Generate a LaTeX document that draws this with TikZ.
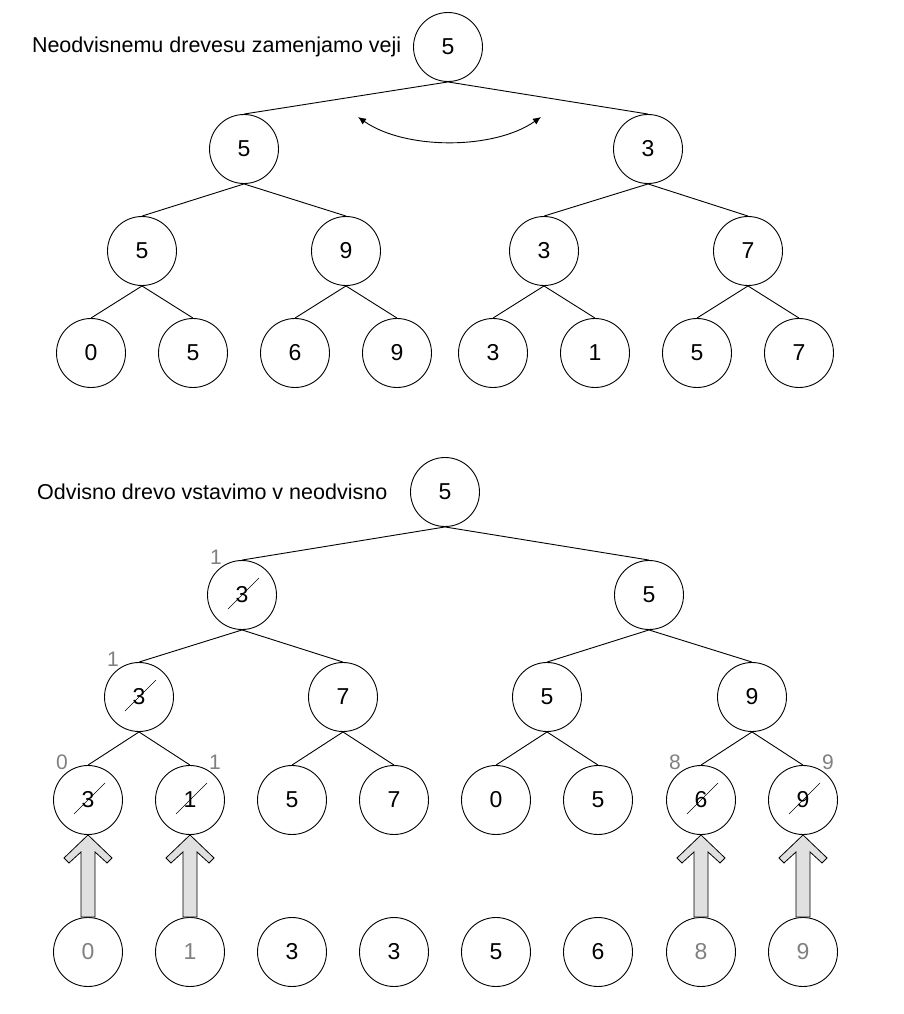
\documentclass[tikz,border=0pt]{standalone}
\usepackage{fontspec}
\setmainfont{Liberation Sans}
\usetikzlibrary{positioning,arrows.meta}
\newcommand{\Lift}[2]{%
  \draw[lift] ([xshift=-7pt]#1.north) -- ([xshift=-7pt,yshift=-17pt]#2.south)
    -- ([xshift=-19pt,yshift=-28pt]#2.south) -- ([xshift=-24pt,yshift=-23pt]#2.south)
    -- (#2.south) -- ([xshift=24pt,yshift=-23pt]#2.south)
    -- ([xshift=19pt,yshift=-28pt]#2.south) -- ([xshift=7pt,yshift=-17pt]#2.south)
    -- ([xshift=7pt]#1.north) -- cycle;}

\tikzset{
  vertex/.style={draw, circle, on grid, minimum size=69pt, inner sep=0pt,
    line width=0.9pt, font=\fontsize{23}{23}\selectfont},
  struck/.style={path picture={\draw[line width=0.6pt]
    ([shift={(-14pt,-14pt)}]path picture bounding box.center) --
    ([shift={(17pt,17pt)}]path picture bounding box.center);}},
  faded/.style={text=black!50},
  idx/.style={on grid, text=black!50, font=\fontsize{21}{21}\selectfont},
  caption/.style={font=\fontsize{21.5}{21.5}\selectfont},
  lift/.style={fill=black!12, line width=0.8pt},
}

\begin{document}
\begin{tikzpicture}[x=1pt, y=-1pt, line width=0.9pt]
		\useasboundingbox (0,0) rectangle (904,1014);

		% Independent tree
		\node[vertex] (T) at (448,47) {5};
		\node[caption, left=8pt of T] (titleT) {Neodvisnemu drevesu zamenjamo veji};
		\node[vertex, below left=102pt and 204pt of T] (TL) {5};
		\node[vertex, below right=102pt and 200pt of T] (TR) {3};
		\node[vertex, below left=102pt and 102pt of TL] (TLL) {5};
		\node[vertex, below right=102pt and 102pt of TL] (TLR) {9};
		\node[vertex, below left=102pt and 104pt of TR] (TRL) {3};
		\node[vertex, below right=102pt and 100pt of TR] (TRR) {7};
		\node[vertex, below left=102pt and 51pt of TLL] (TLLL) {0};
		\node[vertex, below right=102pt and 51pt of TLL] (TLLR) {5};
		\node[vertex, below left=102pt and 51pt of TLR] (TLRL) {6};
		\node[vertex, below right=102pt and 51pt of TLR] (TLRR) {9};
		\node[vertex, below left=102pt and 51pt of TRL] (TRLL) {3};
		\node[vertex, below right=102pt and 51pt of TRL] (TRLR) {1};
		\node[vertex, below left=102pt and 51pt of TRR] (TRRL) {5};
		\node[vertex, below right=102pt and 51pt of TRR] (TRRR) {7};

		% Connect the nodes
		\draw (T.south) -- (TL.north) (T.south) -- (TR.north);
		\draw (TL.south) -- (TLL.north) (TL.south) -- (TLR.north);
		\draw (TR.south) -- (TRL.north) (TR.south) -- (TRR.north);
		\draw (TLL.south) -- (TLLL.north) (TLL.south) -- (TLLR.north);
		\draw (TLR.south) -- (TLRL.north) (TLR.south) -- (TLRR.north);
		\draw (TRL.south) -- (TRLL.north) (TRL.south) -- (TRLR.north);
		\draw (TRR.south) -- (TRRL.north) (TRR.south) -- (TRRR.north);

		% Swap of the branches
		\coordinate (swapL) at (358,117);
		\coordinate (swapR) at (541,117);
		\draw[{Latex[length=8pt,width=7pt]}-{Latex[length=8pt,width=7pt]}]
			(swapL) .. controls (405,150) and (494,150) .. (swapR);

		% Dependent tree inserted
		\node[vertex] (B) at (445,492) {5};
		\node[caption, left=19pt of B] (titleB) {Odvisno drevo vstavimo v neodvisno};
		\node[vertex, struck, below left=103pt and 203pt of B] (BL) {3};
		\node[vertex, below right=103pt and 204pt of B] (BR) {5};
		\node[vertex, struck, below left=102pt and 103pt of BL] (BLL) {3};
		\node[vertex, below right=102pt and 101pt of BL] (BLR) {7};
		\node[vertex, below left=102pt and 102pt of BR] (BRL) {5};
		\node[vertex, below right=102pt and 103pt of BR] (BRR) {9};
		\node[vertex, struck, below left=103pt and 51pt of BLL] (BLLL) {3};
		\node[vertex, struck, below right=103pt and 51pt of BLL] (BLLR) {1};
		\node[vertex, below left=103pt and 51pt of BLR] (BLRL) {5};
		\node[vertex, below right=103pt and 51pt of BLR] (BLRR) {7};
		\node[vertex, below left=103pt and 51pt of BRL] (BRLL) {0};
		\node[vertex, below right=103pt and 51pt of BRL] (BRLR) {5};
		\node[vertex, struck, below left=103pt and 51pt of BRR] (BRRL) {6};
		\node[vertex, struck, below right=103pt and 51pt of BRR] (BRRR) {9};

		% Counters
		\node[idx, above left=38pt and 26pt of BL] (iBL) {1};
		\node[idx, above left=38pt and 26pt of BLL] (iBLL) {1};
		\node[idx, above left=38pt and 26pt of BLLL] (iBLLL) {0};
		\node[idx, above right=38pt and 25pt of BLLR] (iBLLR) {1};
		\node[idx, above left=38pt and 26pt of BRRL] (iBRRL) {8};
		\node[idx, above right=38pt and 25pt of BRRR] (iBRRR) {9};

		% Dependent leaves
		\node[vertex, faded, below=152pt of BLLL] (Q1) {0};
		\node[vertex, faded, below=152pt of BLLR] (Q2) {1};
		\node[vertex, below=152pt of BLRL] (Q3) {3};
		\node[vertex, below=152pt of BLRR] (Q4) {3};
		\node[vertex, below=152pt of BRLL] (Q5) {5};
		\node[vertex, below=152pt of BRLR] (Q6) {6};
		\node[vertex, faded, below=152pt of BRRL] (Q7) {8};
		\node[vertex, faded, below=152pt of BRRR] (Q8) {9};

		% Connect the nodes
		\draw (B.south) -- (BL.north) (B.south) -- (BR.north);
		\draw (BL.south) -- (BLL.north) (BL.south) -- (BLR.north);
		\draw (BR.south) -- (BRL.north) (BR.south) -- (BRR.north);
		\draw (BLL.south) -- (BLLL.north) (BLL.south) -- (BLLR.north);
		\draw (BLR.south) -- (BLRL.north) (BLR.south) -- (BLRR.north);
		\draw (BRL.south) -- (BRLL.north) (BRL.south) -- (BRLR.north);
		\draw (BRR.south) -- (BRRL.north) (BRR.south) -- (BRRR.north);

		\Lift{Q1}{BLLL}
		\Lift{Q2}{BLLR}
		\Lift{Q7}{BRRL}
		\Lift{Q8}{BRRR}
	\end{tikzpicture}
\end{document}
